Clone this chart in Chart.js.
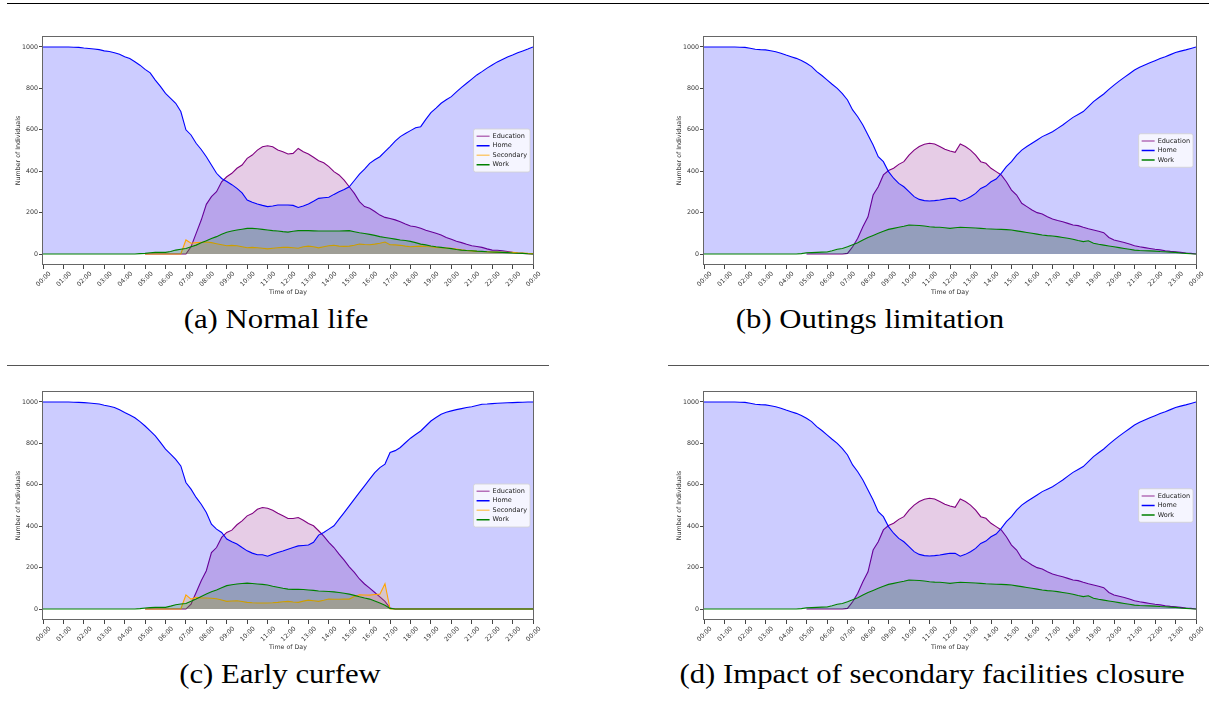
<!DOCTYPE html>
<html>
<head>
<meta charset="utf-8">
<script src="https://cdn.jsdelivr.net/npm/chart.js@4/dist/chart.umd.min.js"></script>
<style>
  body { margin: 0; background: #fff; width: 1209px; height: 715px; position: relative; overflow: hidden; }
  .rule { position: absolute; height: 1px; }
  canvas { position: absolute; }
  .cap { position: absolute; font-family: "Liberation Serif", serif; font-size: 27px; line-height: 1; white-space: nowrap; transform: translateX(-50%) scaleX(1.14); color: #000; }
</style>
</head>
<body>
<div class="rule" style="left:7px; top:3px; width:1202px; background:#000"></div>
<div class="rule" style="left:7px; top:365px; width:542px; background:#555"></div>
<div class="rule" style="left:668px; top:365px; width:541px; background:#555"></div>

<canvas id="ca" width="560" height="266" style="left:0; top:30px"></canvas>
<canvas id="cb" width="548" height="266" style="left:661px; top:30px"></canvas>
<canvas id="cc" width="560" height="266" style="left:0; top:385px"></canvas>
<canvas id="cd" width="548" height="266" style="left:661px; top:385px"></canvas>

<div class="cap" style="left:276px; top:306px">(a) Normal life</div>
<div class="cap" style="left:870px; top:306px">(b) Outings limitation</div>
<div class="cap" style="left:280px; top:661px">(c) Early curfew</div>
<div class="cap" style="left:932px; top:661px">(d) Impact of secondary facilities closure</div>

<script>
// x grid: one value every 15 minutes, 00:00 .. 24:00
const minutes = [];
for (let m = 0; m <= 1440; m += 15) minutes.push(m);

const hourTicks = [];
for (let h = 0; h <= 24; h++) hourTicks.push(h * 60);
const hourLabels = ["00:00","01:00","02:00","03:00","04:00","05:00","06:00","07:00","08:00","09:00","10:00","11:00",
  "12:00","13:00","14:00","15:00","16:00","17:00","18:00","19:00","20:00","21:00","22:00","23:00","00:00"];
const yTicks = [0, 200, 400, 600, 800, 1000];

// (a) Normal life
const homeA = [1000,1000,1000,1000, 1000,1000,999,998, 995,993,990,987, 981,978,972,965, 953,944,929,912,
  892,875,840,810, 776,752,728,688, 600,575,535,505, 470,430,390,365, 350,335,317,295, 261,250,242,235,
  229,232,237,237, 237,235,225,232, 242,255,269,272, 274,288,301,312, 325,355,386,410, 438,455,470,495,
  519,545,567,582, 596,610,615,650, 683,705,728,745, 760,783,805,825, 845,865,881,898, 913,928,940,952,
  961,972,981,990, 1000];
const eduA = [null,null,null,null, null,null,null,null, null,null,null,null, null,null,null,null, null,null,null,null,
  0,0,0,0, 0,0,0,0, 0,35,100,164, 240,277,301,349, 373,390,414,430, 462,478,502,518,
  523,518,502,494, 483,486,510,494, 483,467,451,441, 422,398,382,357, 325,293,253,229, 221,205,188,177,
  172,165,156,145, 135,132,124,115, 108,100,92,80, 71,62,55,47, 40,36,32,25, 19,18,16,12,
  8,5,3,2, 0];
const secA = [null,null,null,null, null,null,null,null, null,null,null,null, null,null,null,null, null,null,null,null,
  0,0,0,0, 0,0,0,0, 68,52,55,57, 58,55,50,45, 40,42,40,35, 30,32,30,28,
  25,28,30,32, 32,30,28,35, 38,35,30,35, 40,42,38,37, 38,42,48,46, 45,48,52,58,
  45,44,42,38, 35,37,38,36, 35,32,30,29, 28,24,20,17, 15,13,12,11, 10,9,8,8,
  8,6,5,3, 2];
const workA = [0,0,0,0, 0,0,0,0, 0,0,0,0, 0,0,0,0, 0,0,0,2,
  3,6,8,8, 8,12,19,23, 27,35,43,54, 64,75,84,95, 105,111,116,120, 124,124,122,119,
  116,113,111,108, 106,110,113,113, 113,112,111,111, 111,111,111,112, 113,108,103,99, 95,90,84,80,
  76,72,68,65, 61,55,48,44, 39,35,32,29, 26,22,19,17, 16,14,13,11, 10,9,8,7,
  5,4,3,1, 0];

// (b) Outings limitation
const homeB = [1000,1000,1000,1000, 1000,1000,1000,999, 998,994,989,987, 986,982,977,970, 961,953,945,935,
  921,905,881,862, 841,820,800,775, 744,696,663,623, 575,527,470,446, 398,366,341,325, 301,277,264,258,
  256,258,261,265, 269,269,255,264, 277,293,317,328, 349,362,390,422, 446,478,502,519, 535,551,567,579,
  591,607,623,642, 660,674,688,712, 736,755,773,795, 816,835,853,871, 889,902,913,924, 934,944,953,963,
  973,980,986,993, 1000];
const eduB = [null,null,null,null, null,null,null,null, null,null,null,null, null,null,null,null, null,null,null,null,
  0,0,0,0, 0,0,0,0, 3,35,76,132, 180,285,325,382, 403,414,433,446, 478,502,519,530,
  535,531,519,506, 498,491,531,519, 502,478,446,438, 414,398,382,349, 309,285,245,229, 213,200,193,180,
  169,162,156,148, 140,137,129,122, 116,110,103,80, 68,62,56,48, 40,35,31,27, 23,20,16,13,
  11,8,5,3, 0];
const workB = [0,0,0,0, 0,0,0,0, 0,0,0,0, 0,0,0,0, 0,0,0,2,
  6,7,8,9, 10,16,23,27, 35,45,55,68, 80,90,100,110, 119,124,129,134, 140,139,138,135,
  132,130,129,127, 124,127,129,128, 127,126,124,122, 121,120,119,118, 116,112,108,104, 100,96,92,89,
  87,84,80,76, 71,65,60,64, 52,47,43,39, 35,31,27,23, 19,17,16,15, 14,12,11,9,
  8,5,3,1, 0];

// (c) Early curfew
const homeC = [1000,1000,1000,1000, 1000,1000,999,998, 997,995,993,990, 984,979,973,962, 949,937,924,905,
  884,860,836,805, 772,748,723,691, 611,579,539,506, 466,410,386,370, 338,325,314,297, 281,270,262,262,
  255,265,273,280, 289,297,305,307, 309,322,357,370, 386,402,434,466, 498,531,563,595, 627,659,683,700,
  756,765,780,803, 825,843,860,884, 908,925,941,950, 957,963,968,973, 977,983,989,990, 992,994,995,996,
  997,998,999,1000, 1000];
const eduC = [null,null,null,null, null,null,null,null, null,null,null,null, null,null,null,null, null,null,null,null,
  0,0,0,0, 0,0,0,0, 0,24,80,137, 185,273,297,346, 370,381,407,426, 450,461,482,490,
  487,477,463,450, 437,437,442,429, 413,402,378,352, 322,297,265,236, 204,177,145,121, 101,80,59,37,
  5,0,0,0, 0,0,0,0, 0,0,0,0, 0,0,0,0, 0,0,0,0, 0,0,0,0,
  0,0,0,0, 0];
const secC = [null,null,null,null, null,null,null,null, null,null,null,null, null,null,null,null, null,null,null,null,
  0,0,0,0, 0,0,0,0, 68,48,56,54, 53,52,50,44, 37,39,40,36, 32,30,29,29,
  29,30,32,35, 37,34,32,38, 43,40,37,42, 48,47,47,48, 48,60,69,68, 67,70,72,122,
  0,0,0,0, 0,0,0,0, 0,0,0,0, 0,0,0,0, 0,0,0,0, 0,0,0,0,
  0,0,0,0, 0];
const workC = [0,0,0,0, 0,0,0,0, 0,0,0,0, 0,0,0,0, 0,0,0,2,
  5,7,8,8, 8,14,21,24, 27,38,48,60, 72,83,92,103, 113,117,121,123, 125,123,121,119,
  116,110,105,100, 96,95,95,94, 92,90,87,86, 85,83,80,76, 72,66,59,53, 48,39,29,18,
  3,0,0,0, 0,0,0,0, 0,0,0,0, 0,0,0,0, 0,0,0,0, 0,0,0,0,
  0,0,0,0, 0];

// (d) Impact of secondary facilities closure -- reads the same as (b)
const homeD = homeB;
const eduD = eduB;
const workD = workB;

const tickFont = { family: "DejaVu Sans", size: 6.3 };

function pts(vals) {
  return vals.map((v, i) => ({ x: minutes[i], y: v }));
}

function line(label, vals, color, fill, legendColor, order) {
  return {
    label, data: pts(vals), borderColor: color, backgroundColor: fill, fill: "origin",
    borderWidth: 1.1, pointRadius: 0, tension: 0, order, legendColor
  };
}

const edu = v => line("Education", v, "#800080", "rgba(128,0,128,0.2)", "rgba(128,0,128,0.55)", 4);
const home = v => line("Home", v, "#0000ff", "rgba(0,0,255,0.2)", "#0000ff", 3);
const sec = v => line("Secondary", v, "#ffa500", "rgba(255,165,0,0.2)", "rgba(255,165,0,0.55)", 2);
const work = v => line("Work", v, "#008000", "rgba(0,128,0,0.2)", "#008000", 1);

// box round the plot area, like matplotlib spines
const frame = {
  id: "frame",
  afterDatasetsDraw(chart) {
    const { ctx, chartArea: a } = chart;
    ctx.save();
    ctx.strokeStyle = "#666";
    ctx.lineWidth = 1;
    ctx.strokeRect(Math.round(a.left) - 0.5, Math.round(a.top) + 0.5,
      Math.round(a.right - a.left) + 1, Math.round(a.bottom - a.top) - 1);
    ctx.restore();
  }
};

// matplotlib-style legend, centre right
const legendBox = {
  id: "legendBox",
  afterDatasetsDraw(chart) {
    const { ctx, chartArea: a } = chart;
    const items = chart.data.datasets;
    ctx.save();
    ctx.font = '6.5px "DejaVu Sans"';
    const tw = Math.max(...items.map(d => ctx.measureText(d.label).width));
    const rowH = 9.5;
    const w = tw + 22, h = items.length * rowH + 5;
    const x = a.right - 3 - w, y = (a.top + a.bottom) / 2 - h / 2;
    ctx.fillStyle = "rgba(255,255,255,0.8)";
    ctx.strokeStyle = "#d0d0d0";
    ctx.lineWidth = 0.8;
    ctx.beginPath();
    ctx.roundRect(x, y, w, h, 2);
    ctx.fill();
    ctx.stroke();
    items.forEach((d, i) => {
      const cy = y + 2.5 + rowH * (i + 0.5);
      ctx.strokeStyle = d.legendColor;
      ctx.lineWidth = 1.5;
      ctx.beginPath();
      ctx.moveTo(x + 3, cy);
      ctx.lineTo(x + 16, cy);
      ctx.stroke();
      ctx.fillStyle = "#222";
      ctx.textBaseline = "middle";
      ctx.fillText(d.label, x + 19, cy);
    });
    ctx.restore();
  }
};

function makeChart(id, datasets, padRight) {
  new Chart(document.getElementById(id), {
    type: "line",
    data: { datasets },
    options: {
      responsive: false,
      animation: false,
      devicePixelRatio: 1,
      layout: { padding: { left: 0, right: padRight, top: 6, bottom: 0 } },
      plugins: { legend: { display: false }, tooltip: { enabled: false } },
      scales: {
        x: {
          type: "linear", min: 0, max: 1440,
          border: { display: false },
          grid: { drawOnChartArea: false, tickLength: 4, color: "#444" },
          afterBuildTicks: s => { s.ticks = hourTicks.map(v => ({ value: v })); },
          afterFit: s => { s.height = 31; },
          ticks: {
            autoSkip: false, maxRotation: 45, minRotation: 45, padding: 1, labelOffset: 7,
            font: tickFont, color: "#333",
            callback: (v, i) => hourLabels[i]
          },
          title: { display: true, text: "Time of Day", font: tickFont, color: "#333", padding: { top: 0, bottom: 0 } }
        },
        y: {
          min: -53, max: 1053,
          border: { display: false },
          grid: { drawOnChartArea: false, tickLength: 4, color: "#444" },
          afterBuildTicks: s => { s.ticks = yTicks.map(v => ({ value: v })); },
          afterFit: s => { s.width = 43; },
          ticks: { padding: 1, font: tickFont, color: "#333", callback: v => String(v) },
          title: { display: true, text: "Number of Individuals", font: tickFont, color: "#333", padding: { top: 15, bottom: 0 } }
        }
      }
    },
    plugins: [frame, legendBox]
  });
}

makeChart("ca", [edu(eduA), home(homeA), sec(secA), work(workA)], 27);
makeChart("cb", [edu(eduB), home(homeB), work(workB)], 13);
makeChart("cc", [edu(eduC), home(homeC), sec(secC), work(workC)], 27);
makeChart("cd", [edu(eduD), home(homeD), work(workD)], 13);
</script>
</body>
</html>
